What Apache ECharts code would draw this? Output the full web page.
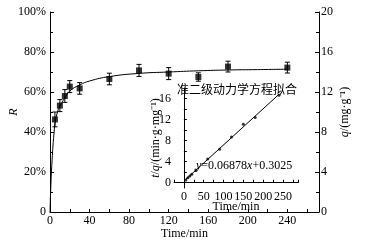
<!DOCTYPE html>
<html>
<head>
<meta charset="utf-8">
<script src="https://cdn.jsdelivr.net/npm/echarts@6/dist/echarts.min.js"></script>
<style>
html, body { margin: 0; padding: 0; background: #fff; }
#main { width: 373px; height: 244px; }
</style>
</head>
<body>
<div id="main"></div>
<script>
// 去除率 R (%) 随时间变化
var times = [5, 10, 15, 20, 30, 60, 90, 120, 150, 180, 240];
var removal = [46.3, 53.2, 58, 62.7, 61.8, 66.5, 70.8, 69.2, 67.5, 72.7, 72.2];
var removalErr = [3.7, 3, 3.2, 3, 2.9, 2.9, 3, 3, 2.1, 2.7, 2.7];
// 拟合曲线
var fitTimes = [0, 1, 2, 3, 4, 5, 7, 10, 15, 20, 30, 40, 60, 90, 120, 150, 180, 210, 240];
var fitR = [0, 15, 25, 33, 39, 44, 49, 53, 57, 60.5, 63.5, 65.5, 67.7, 69.3, 70, 70.6, 71, 71.2, 71.4];
// 小图: t/q
var tq = [0.54, 0.94, 1.29, 1.59, 2.43, 4.51, 6.36, 8.67, 11.1, 12.38, 16.62];
var lineT = [5, 240];
var lineTq = [0.65, 16.8];
var insetYLabels = [0, 4, 8, 12, 16];
var insetYTicks = [0, 2, 4, 6, 8, 10, 12, 14, 16, 18];

var serif = '"Liberation Serif", "Times New Roman", serif';
var cjk = '"Noto Sans CJK SC", sans-serif';

function zip(a, b) {
    var out = [];
    for (var i = 0; i < a.length; i++) out.push([a[i], b[i]]);
    return out;
}

var errData = [];
for (var i = 0; i < times.length; i++) {
    errData.push([times[i], removal[i], removalErr[i]]);
}

var axisLine = {show: true, lineStyle: {color: '#000', width: 1}};
var labelStyle = {color: '#000', fontFamily: serif, fontSize: 12};

var chart = echarts.init(document.getElementById('main'));
var option = {
    animation: false,
    backgroundColor: '#fff',
    grid: [
        {left: 50, right: 54, top: 12, bottom: 32, outerBoundsMode: 'none', containLabel: false},
        {left: 174, right: 75, top: 88, bottom: 56, outerBoundsMode: 'none', containLabel: false}
    ],
    xAxis: [
        {
            gridIndex: 0, type: 'value', min: 0, max: 272, interval: 20,
            name: 'Time/min', nameLocation: 'middle', nameGap: 16, nameMoveOverlap: false,
            nameTextStyle: labelStyle,
            axisLine: axisLine,
            axisTick: {inside: true, length: 3, lineStyle: {color: '#000'}},
            axisLabel: Object.assign({margin: 3, formatter: function (v) {
                return (v % 40 === 0) ? v : '';
            }}, labelStyle),
            splitLine: {show: false}
        },
        {
            gridIndex: 1, type: 'value', min: -25, max: 288, interval: 25,
            name: 'Time/min', nameLocation: 'middle', nameGap: 13, nameMoveOverlap: false,
            nameTextStyle: labelStyle,
            axisLine: axisLine,
            axisTick: {inside: true, length: 3, lineStyle: {color: '#000'}},
            axisLabel: Object.assign({margin: 3, formatter: function (v) {
                return (v >= 0 && v % 50 === 0) ? v : '';
            }}, labelStyle),
            splitLine: {show: false}
        }
    ],
    yAxis: [
        {
            gridIndex: 0, type: 'value', min: 0, max: 100, interval: 20,
            name: 'R', nameLocation: 'middle', nameGap: 30, nameRotate: 90, nameMoveOverlap: false,
            nameTextStyle: Object.assign({fontStyle: 'italic'}, labelStyle),
            axisLine: axisLine,
            axisTick: {inside: true, length: 4, lineStyle: {color: '#000'}},
            minorTick: {show: true, splitNumber: 2, length: 3, lineStyle: {color: '#000'}},
            axisLabel: Object.assign({margin: 4, formatter: function (v) {
                return v === 0 ? '0' : v + '%';
            }}, labelStyle),
            splitLine: {show: false}
        },
        {
            gridIndex: 0, type: 'value', min: 0, max: 20, interval: 4, position: 'right',
            name: '{i|q}/(mg·g⁻¹)', nameLocation: 'middle', nameGap: 20, nameRotate: 90, nameMoveOverlap: false,
            nameTextStyle: Object.assign({rich: {i: {fontStyle: 'italic', fontFamily: serif, fontSize: 12, color: '#000'}}}, labelStyle),
            axisLine: axisLine,
            axisTick: {inside: true, length: 4, lineStyle: {color: '#000'}},
            minorTick: {show: true, splitNumber: 2, length: 3, lineStyle: {color: '#000'}},
            axisLabel: Object.assign({margin: 2}, labelStyle),
            splitLine: {show: false}
        },
        {
            gridIndex: 1, type: 'value', min: -1, max: 18,
            name: '{i|t}/{i|q}/(min·g·mg⁻¹)', nameLocation: 'middle', nameGap: 12, nameRotate: 90, nameMoveOverlap: false,
            nameTextStyle: Object.assign({rich: {i: {fontStyle: 'italic', fontFamily: serif, fontSize: 12, color: '#000'}}}, labelStyle),
            axisLine: axisLine,
            axisTick: {inside: true, length: 3, customValues: insetYTicks, lineStyle: {color: '#000'}},
            axisLabel: Object.assign({margin: 3, customValues: insetYLabels}, labelStyle),
            splitLine: {show: false}
        }
    ],
    graphic: [
        {
            type: 'text', left: 177, top: 83, z: 10,
            style: {text: '准二级动力学方程拟合', fill: '#000', font: '12px ' + cjk}
        },
        {
            type: 'text', left: 196, top: 160, z: 10,
            style: {
                text: '{i|y}{n|=0.06878}{i|x}{n|+0.3025}', fill: '#000',
                rich: {
                    i: {fontStyle: 'italic', fontFamily: serif, fontSize: 12, fill: '#000'},
                    n: {fontFamily: serif, fontSize: 12, fill: '#000'}
                }
            }
        }
    ],
    series: [
        {
            type: 'line', xAxisIndex: 0, yAxisIndex: 0,
            data: zip(fitTimes, fitR), smooth: true, showSymbol: false,
            lineStyle: {color: '#000', width: 1}
        },
        {
            type: 'custom', xAxisIndex: 0, yAxisIndex: 0,
            data: errData,
            renderItem: function (params, api) {
                var t = api.value(0), r = api.value(1), e = api.value(2);
                var hi = api.coord([t, r + e]);
                var lo = api.coord([t, r - e]);
                var w = 2.5;
                var st = {stroke: '#000', lineWidth: 1};
                return {
                    type: 'group',
                    children: [
                        {type: 'line', shape: {x1: hi[0], y1: hi[1], x2: lo[0], y2: lo[1]}, style: st},
                        {type: 'line', shape: {x1: hi[0] - w, y1: hi[1], x2: hi[0] + w, y2: hi[1]}, style: st},
                        {type: 'line', shape: {x1: lo[0] - w, y1: lo[1], x2: lo[0] + w, y2: lo[1]}, style: st}
                    ]
                };
            },
            z: 3
        },
        {
            type: 'scatter', xAxisIndex: 0, yAxisIndex: 0,
            data: zip(times, removal), symbol: 'rect', symbolSize: 6,
            itemStyle: {color: '#000'}, z: 4
        },
        {
            type: 'line', xAxisIndex: 1, yAxisIndex: 2,
            data: zip(lineT, lineTq), showSymbol: false,
            lineStyle: {color: '#000', width: 1}
        },
        {
            type: 'scatter', xAxisIndex: 1, yAxisIndex: 2,
            data: zip(times, tq), symbol: 'circle', symbolSize: 3,
            itemStyle: {color: '#000'}
        }
    ]
};
chart.setOption(option);
</script>
</body>
</html>
